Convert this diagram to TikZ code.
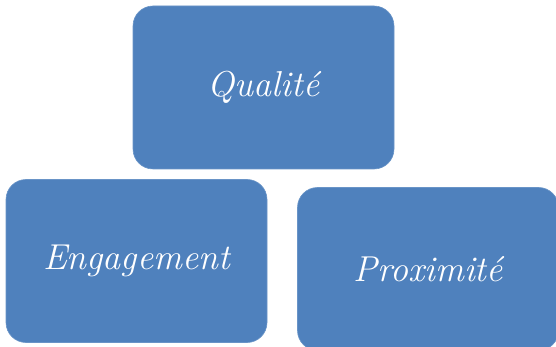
\documentclass[tikz,border=0pt]{standalone}
\usepackage{tikz}

\definecolor{valblue}{RGB}{79,129,189}

\begin{document}
\begin{tikzpicture}[x=1pt,y=-1pt,
  valeur/.style={fill=valblue, draw=valblue!85!white, line width=0.6pt,
    rounded corners=20pt, inner sep=0pt,
    minimum width=261pt, minimum height=163pt,
    text=white, font=\fontsize{36}{40}\selectfont\itshape}]

\useasboundingbox (0,0) rectangle (556,347);
\clip (0,0) rectangle (556,347);

\node[valeur] (qualite) at (263.5,87.5) {Qualit\'e};
\node[valeur] (engagement) at (136.5,261) {Engagement};
\node[valeur] (proximite) at (428,269) {Proximit\'e};

\end{tikzpicture}
\end{document}
